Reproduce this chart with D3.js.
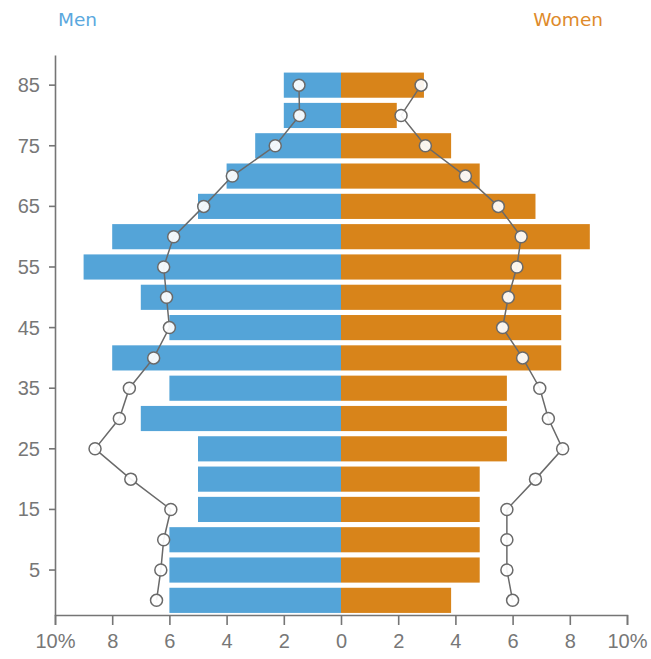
<!DOCTYPE html>
<html>
<head>
<meta charset="utf-8">
<script src="https://cdn.jsdelivr.net/npm/d3@7"></script>
<style>
  body { margin: 0; background: #fff; }
  svg { display: block; font-family: "DejaVu Sans", Verdana, sans-serif; }
  .axis path, .axis line { stroke: #757575; stroke-width: 1.6; }
  .axis text { fill: #777; font-size: 20px; }
</style>
</head>
<body>
<script>
// age groups, bottom to top (label shown every other group)
let ages = d3.range(0, 90, 5);
let ageTicks = [5, 15, 25, 35, 45, 55, 65, 75, 85];

// bar values (%) per age group, 0-4 ... 85+
let menBars   = [6, 6, 6, 5, 5, 5, 7, 6, 8, 6, 7, 9, 8, 5, 4, 3, 2, 2];
let womenBars = [3.85, 4.85, 4.85, 4.85, 4.85, 5.8, 5.8, 5.8, 7.7, 7.7, 7.7, 7.7, 8.7, 6.8, 4.85, 3.85, 1.95, 2.9];

// comparison line values (%)
let menLine   = [6.45, 6.3, 6.2, 5.95, 7.35, 8.6, 7.75, 7.4, 6.55, 6.0, 6.1, 6.2, 5.85, 4.8, 3.8, 2.3, 1.45, 1.47];
let womenLine = [6.0, 5.8, 5.8, 5.8, 6.8, 7.75, 7.25, 6.95, 6.35, 5.65, 5.85, 6.15, 6.3, 5.5, 4.35, 2.95, 2.1, 2.8];

let xTicks = [-10, -8, -6, -4, -2, 0, 2, 4, 6, 8, 10];

let width = 651, height = 659;
let margin = {top: 55, right: 24, bottom: 44, left: 55};

let svg = d3.select("body").append("svg")
  .attr("width", width)
  .attr("height", height);

let x = d3.scaleLinear()
  .domain([-10, 10])
  .range([margin.left, width - margin.right]);

let y = d3.scaleBand()
  .domain(ages)
  .range([height - margin.bottom + 0.5, 70])
  .paddingInner(0.17)
  .paddingOuter(0.085);

let yc = a => y(a) + y.bandwidth() / 2;

// bars
svg.append("g").selectAll("rect.men")
  .data(ages)
  .enter().append("rect")
  .attr("x", (d, i) => x(-menBars[i]))
  .attr("y", d => y(d))
  .attr("width", (d, i) => x(0) - x(-menBars[i]))
  .attr("height", y.bandwidth())
  .attr("fill", "#54a4d8");

svg.append("g").selectAll("rect.women")
  .data(ages)
  .enter().append("rect")
  .attr("x", x(0))
  .attr("y", d => y(d))
  .attr("width", (d, i) => x(womenBars[i]) - x(0))
  .attr("height", y.bandwidth())
  .attr("fill", "#d8841a");

// axes
svg.append("g")
  .attr("class", "axis")
  .attr("transform", "translate(0," + (height - margin.bottom) + ")")
  .call(d3.axisBottom(x)
    .tickValues(xTicks)
    .tickSize(10)
    .tickSizeOuter(10)
    .tickPadding(9)
    .tickFormat(d => Math.abs(d) === 10 ? "10%" : Math.abs(d)));

let yAxis = svg.append("g")
  .attr("class", "axis")
  .attr("transform", "translate(" + margin.left + ",0)")
  .call(d3.axisLeft(d3.scaleLinear().domain([0, 1]).range([height - margin.bottom, margin.top]))
    .tickValues([]).tickSizeOuter(0));

yAxis.selectAll(".agetick")
  .data(ageTicks)
  .enter().append("g")
  .attr("class", "agetick")
  .attr("transform", d => "translate(0," + yc(d) + ")")
  .each(function() {
    d3.select(this).append("line").attr("x1", -6).attr("x2", 0);
    d3.select(this).append("text")
      .attr("x", -15).attr("dy", "0.35em")
      .attr("text-anchor", "end")
      .text(d => d);
  });

// lines with markers
function drawLine(vals, sign) {
  let line = d3.line()
    .x((d, i) => x(sign * vals[i]))
    .y(d => yc(d));
  svg.append("path")
    .datum(ages)
    .attr("d", line)
    .attr("fill", "none")
    .attr("stroke", "#6a6a6a")
    .attr("stroke-width", 1.5);
  svg.append("g").selectAll("circle")
    .data(ages)
    .enter().append("circle")
    .attr("cx", (d, i) => x(sign * vals[i]))
    .attr("cy", d => yc(d))
    .attr("r", 6)
    .attr("fill", "#fff")
    .attr("fill-opacity", 0.92)
    .attr("stroke", "#6a6a6a")
    .attr("stroke-width", 1.5);
}
drawLine(menLine, -1);
drawLine(womenLine, 1);

// titles
svg.append("text")
  .attr("x", 58).attr("y", 26)
  .attr("font-size", 18.5)
  .attr("fill", "#5aa8de")
  .text("Men");
svg.append("text")
  .attr("x", 603).attr("y", 26)
  .attr("text-anchor", "end")
  .attr("font-size", 18.5)
  .attr("fill", "#de8a2a")
  .text("Women");
</script>
</body>
</html>
